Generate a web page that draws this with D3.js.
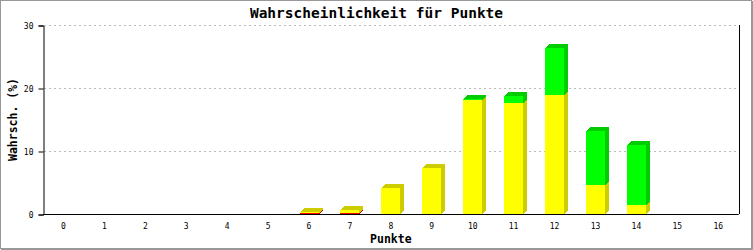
<!DOCTYPE html>
<html>
<head>
<meta charset="utf-8">
<script src="https://cdn.jsdelivr.net/npm/d3@7"></script>
<style>
  body { margin: 0; background: #fff; }
  text { font-family: 'DejaVu Sans Mono', monospace; fill: #000; }
</style>
</head>
<body>
<script>
// categories (Punkte) and stacked series in %
const categories = ['0', '1', '2', '3', '4', '5', '6', '7', '8', '9', '10', '11', '12', '13', '14', '15', '16']
const red = [0, 0, 0, 0, 0, 0, 0.1, 0.15, 0, 0, 0, 0, 0, 0, 0, 0, 0]
const yellow = [0, 0, 0, 0, 0, 0, 0.2, 0.55, 4.17, 7.29, 18.07, 17.6, 18.86, 4.6, 1.43, 0, 0]
const green = [0, 0, 0, 0, 0, 0, 0, 0, 0, 0, 0.2, 1.1, 7.45, 8.55, 9.5, 0, 0]
const yTicks = [0, 10, 20, 30]

const w = 753
const h = 250
const pLeft = 43
const pRight = 738.7
const pTop = 25
const pBottom = 214
const barW = 19
const depth = 4

const series = [
    { name: 'red', values: red, front: '#ff0000', side: '#cc0000' },
    { name: 'yellow', values: yellow, front: '#ffff00', side: '#cccc00' },
    { name: 'green', values: green, front: '#00ff00', side: '#00cc00' }
]

const rows = categories.map((c, i) => {
    const row = { cat: c }
    series.forEach(s => { row[s.name] = s.values[i] })
    return row
})
const stacked = d3.stack().keys(series.map(s => s.name))(rows)

const xScale = d3.scaleBand()
    .domain(categories)
    .range([pLeft, pRight])

const yScale = d3.scaleLinear()
    .domain([0, 30])
    .range([pBottom, pTop])

const svg = d3.select('body')
    .append('svg')
    .attr('width', w)
    .attr('height', h)

// frame around the image
svg.append('rect')
    .attr('x', 0.5).attr('y', 0.5)
    .attr('width', w - 2).attr('height', h - 2)
    .attr('fill', '#fff')
    .attr('stroke', '#999')
svg.append('path')
    .attr('d', `M1,${h - 0.5}H${w - 0.5}V1`)
    .attr('fill', 'none')
    .attr('stroke', '#999')

// dotted grid lines
svg.append('g')
    .selectAll('line')
    .data(yTicks.filter(d => d > 0))
    .enter()
    .append('line')
    .attr('x1', pLeft + 1)
    .attr('x2', pRight)
    .attr('y1', d => Math.round(yScale(d)) + 0.5)
    .attr('y2', d => Math.round(yScale(d)) + 0.5)
    .attr('stroke', '#bbb')
    .attr('stroke-dasharray', '2,3')

// 3d stacked bars
stacked.forEach((layer, si) => {
    const s = series[si]
    const g = svg.append('g').attr('shape-rendering', 'crispEdges')
    layer.forEach((d, i) => {
        if (d[1] - d[0] <= 0) return
        const cx = xScale(categories[i]) + xScale.bandwidth() / 2
        const x0 = Math.round(cx - barW / 2)
        const x1 = x0 + barW
        const y0 = Math.round(yScale(d[0]))
        const y1 = Math.round(yScale(d[1]))
        // side face
        g.append('path')
            .attr('d', `M${x1},${y0}L${x1 + depth},${y0 - depth}L${x1 + depth},${y1 - depth}L${x1},${y1}Z`)
            .attr('fill', s.side)
        // top face
        g.append('path')
            .attr('d', `M${x0},${y1}L${x0 + depth},${y1 - depth}L${x1 + depth},${y1 - depth}L${x1},${y1}Z`)
            .attr('fill', s.side)
        // front face
        g.append('rect')
            .attr('x', x0)
            .attr('y', y1)
            .attr('width', barW)
            .attr('height', Math.max(1, y0 - y1))
            .attr('fill', s.front)
    })
})

// right border of the plot
svg.append('line')
    .attr('x1', Math.round(pRight) + 0.5).attr('x2', Math.round(pRight) + 0.5)
    .attr('y1', pTop).attr('y2', pBottom)
    .attr('stroke', '#000')

// y axis
const yAxis = d3.axisLeft(yScale).tickValues(yTicks).tickSize(5).tickPadding(5)
svg.append('g')
    .attr('transform', `translate(${pLeft + 0.5},0.5)`)
    .call(yAxis)
    .call(g => g.selectAll('text').style('font-size', '8px').style('font-family', "'DejaVu Sans Mono', monospace"))

// x axis
const xAxis = d3.axisBottom(xScale).tickSize(0).tickPadding(9)
svg.append('g')
    .attr('transform', `translate(0,${pBottom + 0.5})`)
    .call(xAxis)
    .call(g => g.select('.domain').attr('d', `M${pLeft},0H${pRight}`))
    .call(g => g.selectAll('text').style('font-size', '8px').style('font-family', "'DejaVu Sans Mono', monospace"))

// title
svg.append('text')
    .attr('x', w / 2)
    .attr('y', 18)
    .attr('text-anchor', 'middle')
    .attr('font-weight', 'bold')
    .attr('font-size', 14.5)
    .text('Wahrscheinlichkeit für Punkte')

// axis titles
svg.append('text')
    .attr('x', (pLeft + pRight) / 2)
    .attr('y', 243)
    .attr('text-anchor', 'middle')
    .attr('font-weight', 'bold')
    .attr('font-size', 11.5)
    .text('Punkte')

svg.append('text')
    .attr('transform', `translate(17,${(pTop + pBottom) / 2}) rotate(-90)`)
    .attr('text-anchor', 'middle')
    .attr('font-weight', 'bold')
    .attr('font-size', 11.5)
    .text('Wahrsch. (%)')
</script>
</body>
</html>
